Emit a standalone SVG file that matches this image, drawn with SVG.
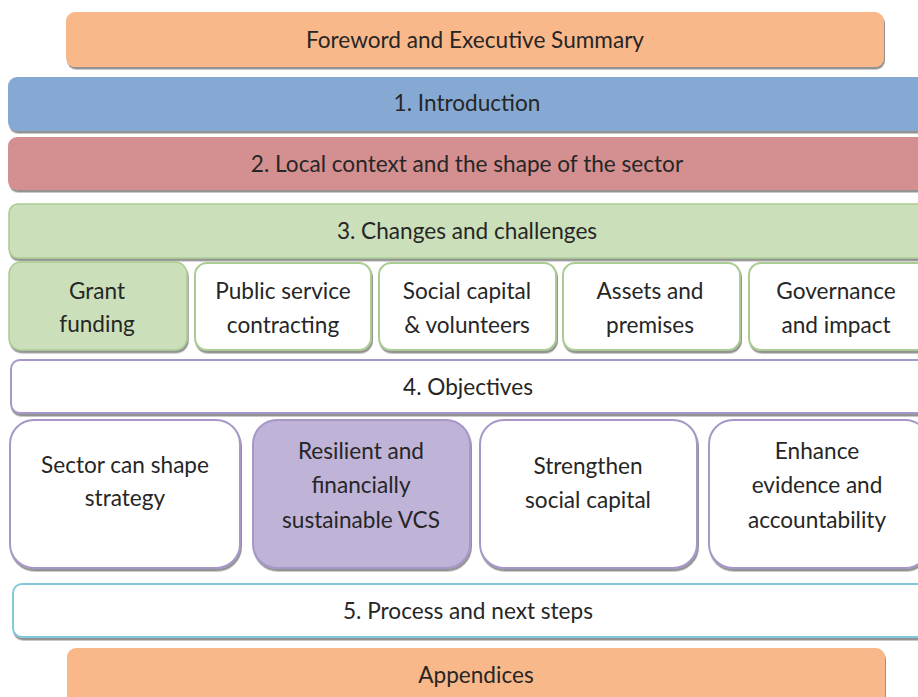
<svg xmlns="http://www.w3.org/2000/svg" width="918" height="697" viewBox="0 0 918 697">
<defs>
<filter id="sh" x="-5%" y="-10%" width="110%" height="130%">
<feDropShadow dx="1" dy="2.5" stdDeviation="0.6" flood-color="#3a3a3a" flood-opacity="0.55"/>
</filter>
<style>
text{font-family:"Lato","Open Sans","Liberation Sans",sans-serif;font-size:22.6px;fill:#262626;text-anchor:middle}
.or{fill:#F9B88A}
.bl{fill:#86A9D3}
.rd{fill:#D49090}
.gr{fill:#CBE0BA;stroke:#AACB92;stroke-width:1.5}
.gw{fill:#FFFFFF;stroke:#AACB92;stroke-width:2}
.pw{fill:#FFFFFF;stroke:#A797C8;stroke-width:2}
.pp{fill:#BFB3D7;stroke:#A797C8;stroke-width:2}
.cw{fill:#FFFFFF;stroke:#80CADB;stroke-width:2}
rect{filter:url(#sh)}
</style>
</defs>
<g id="foreword"><rect class="or" x="66" y="12" width="818" height="55" rx="9"/><text x="475" y="48">Foreword and Executive Summary</text></g>
<g id="introduction"><rect class="bl" x="8" y="77" width="920" height="54" rx="9"/><text x="467" y="111">1. Introduction</text></g>
<g id="local-context"><rect class="rd" x="8" y="137" width="920" height="53" rx="9"/><text x="467" y="172">2. Local context and the shape of the sector</text></g>
<g id="changes"><rect class="gr" x="9" y="204" width="920" height="54" rx="9"/><text x="467" y="239">3. Changes and challenges</text></g>
<g id="grant-funding"><rect class="gr" x="9" y="262" width="178" height="88" rx="12"/><text x="97" y="299">Grant</text><text x="97" y="332">funding</text></g>
<g id="public-service"><rect class="gw" x="195" y="263" width="176" height="87" rx="12"/><text x="283" y="299">Public service</text><text x="283" y="333">contracting</text></g>
<g id="social-capital"><rect class="gw" x="379" y="263" width="177" height="87" rx="12"/><text x="467" y="299">Social capital</text><text x="467" y="333">&amp; volunteers</text></g>
<g id="assets"><rect class="gw" x="563" y="263" width="177" height="87" rx="12"/><text x="650" y="299">Assets and</text><text x="650" y="333">premises</text></g>
<g id="governance"><rect class="gw" x="749" y="263" width="180" height="87" rx="12"/><text x="836" y="299">Governance</text><text x="836" y="333">and impact</text></g>
<g id="objectives"><rect class="pw" x="11" y="360" width="920" height="53" rx="9"/><text x="468" y="395">4. Objectives</text></g>
<g id="sector-strategy"><rect class="pw" x="10" y="420" width="230" height="148" rx="24"/><text x="125" y="473">Sector can shape</text><text x="125" y="506">strategy</text></g>
<g id="resilient"><rect class="pp" x="253" y="420" width="217" height="148" rx="24"/><text x="361" y="459">Resilient and</text><text x="361" y="493">financially</text><text x="361" y="528">sustainable VCS</text></g>
<g id="strengthen"><rect class="pw" x="480" y="420" width="217" height="148" rx="24"/><text x="588" y="474">Strengthen</text><text x="588" y="508">social capital</text></g>
<g id="enhance"><rect class="pw" x="709" y="420" width="220" height="148" rx="24"/><text x="817" y="459">Enhance</text><text x="817" y="493">evidence and</text><text x="817" y="528">accountability</text></g>
<g id="process"><rect class="cw" x="13" y="584" width="920" height="53" rx="9"/><text x="468" y="619">5. Process and next steps</text></g>
<g id="appendices"><rect class="or" x="67" y="648" width="818" height="60" rx="9"/><text x="476" y="683">Appendices</text></g>
<g id="connectors"></g>
</svg>
